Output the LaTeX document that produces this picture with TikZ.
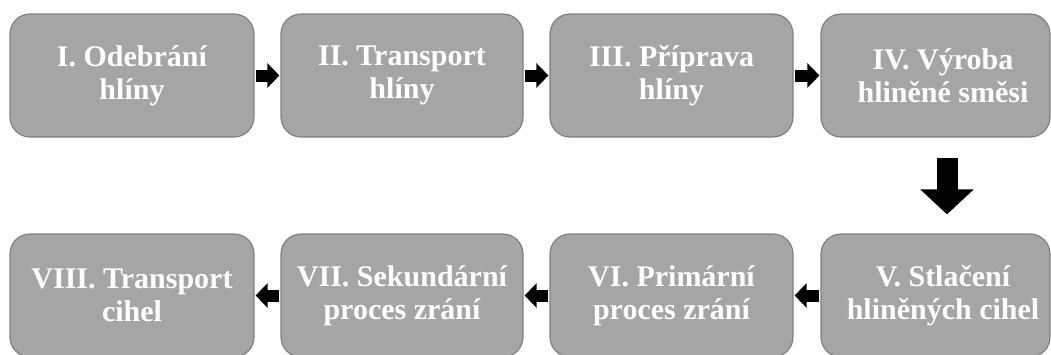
\documentclass[tikz,border=0pt]{standalone}
\usepackage{fontspec}
\setmainfont{Liberation Serif}
\usetikzlibrary{arrows.meta}
\definecolor{boxfill}{RGB}{165,165,165}
\definecolor{boxline}{RGB}{128,128,128}
\tikzset{
 stepbox/.style={draw=boxline, fill=boxfill, line width=1.2pt, rounded corners=20pt, minimum height=123pt, inner sep=0pt},
 steptext/.style={text=white, font=\bfseries\fontsize{30}{33}\selectfont, align=center},
 flow/.style={line width=12pt, -{Triangle[length=12pt,width=24pt]}, shorten <=1pt, shorten >=1pt},
 bigflow/.style={line width=21pt, -{Triangle[length=25pt,width=52pt]}, shorten <=20pt, shorten >=19pt},
}
\begin{document}
\begin{tikzpicture}[x=1pt,y=-1pt]
\clip (0,0) rectangle (1051,354);
\node[stepbox, steptext, minimum width=244pt] (n1) at (132,75.5) {I. Odebrání\\hlíny};
\node[stepbox, steptext, minimum width=242pt] (n2) at (402,75.5) {II. Transport\\hlíny};
\node[stepbox, steptext, minimum width=243pt] (n3) at (671.5,75.5) {III. Příprava\\hlíny};
\node[stepbox, minimum width=229pt] (n4) at (935.5,75.5) {};
\node[steptext] (t4) at (943,75.5) {IV. Výroba\\hliněné směsi};
\node[stepbox, minimum width=229pt] (n5) at (935.5,295.5) {};
\node[steptext] (t5) at (943,295.5) {V. Stlačení\\hliněných cihel};
\node[stepbox, steptext, minimum width=243pt] (n6) at (671.5,295.5) {VI. Primární\\proces zrání};
\node[stepbox, steptext, minimum width=242pt] (n7) at (402,295.5) {VII. Sekundární\\proces zrání};
\node[stepbox, steptext, minimum width=244pt] (n8) at (132,295.5) {VIII. Transport\\cihel};
\draw[flow] (n1.east) -- (n2.west);
\draw[flow] (n2.east) -- (n3.west);
\draw[flow] (n3.east) -- (n4.west);
\draw[bigflow] ([xshift=11.5pt]n4.south) -- ([xshift=11.5pt]n5.north);
\draw[flow] (n5.west) -- (n6.east);
\draw[flow] (n6.west) -- (n7.east);
\draw[flow] (n7.west) -- (n8.east);
\end{tikzpicture}
\end{document}
